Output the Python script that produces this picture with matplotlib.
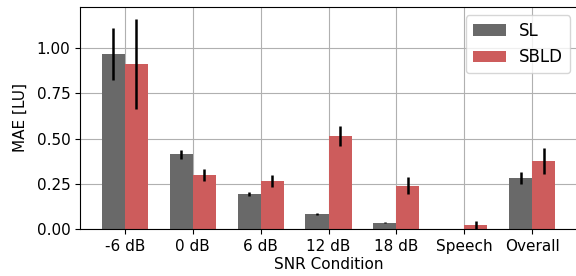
import numpy as np
import matplotlib.pyplot as plt

conditions = ['-6 dB', '0 dB', '6 dB', '12 dB', '18 dB', 'Speech', 'Overall']
sl_mae = [0.967, 0.414, 0.193, 0.083, 0.035, 0.002, 0.282]
sl_err = [0.145, 0.025, 0.013, 0.005, 0.003, 0.001, 0.032]
sbld_mae = [0.912, 0.298, 0.265, 0.514, 0.238, 0.022, 0.376]
sbld_err = [0.25, 0.035, 0.035, 0.053, 0.047, 0.022, 0.074]

plt.rcParams['font.size'] = 11

fig = plt.figure(figsize=(5.76, 2.76), dpi=100)
ax = fig.add_axes([0.139, 0.170, 0.865, 0.805])
ax.set_axisbelow(True)
ax.grid(True, color='#b0b0b0', linewidth=0.8)

x = np.arange(len(conditions))
width = 0.34
ax.bar(x - width/2, sl_mae, width, yerr=sl_err, color='dimgray', label='SL',
       error_kw=dict(ecolor='black', elinewidth=1.8, capsize=0))
ax.bar(x + width/2, sbld_mae, width, yerr=sbld_err, color='indianred', label='SBLD',
       error_kw=dict(ecolor='black', elinewidth=1.8, capsize=0))

ax.set_xticks(x)
ax.set_xticklabels(conditions)
ax.set_yticks([0, 0.25, 0.5, 0.75, 1.0])
ax.set_xlim(-0.66, 6.68)
ax.set_ylim(0, 1.227)
ax.set_xlabel('SNR Condition', labelpad=2)
ax.set_ylabel('MAE [LU]', labelpad=6)
ax.legend(loc='upper right', fontsize=12)

fig.savefig('out.png', dpi=100)
